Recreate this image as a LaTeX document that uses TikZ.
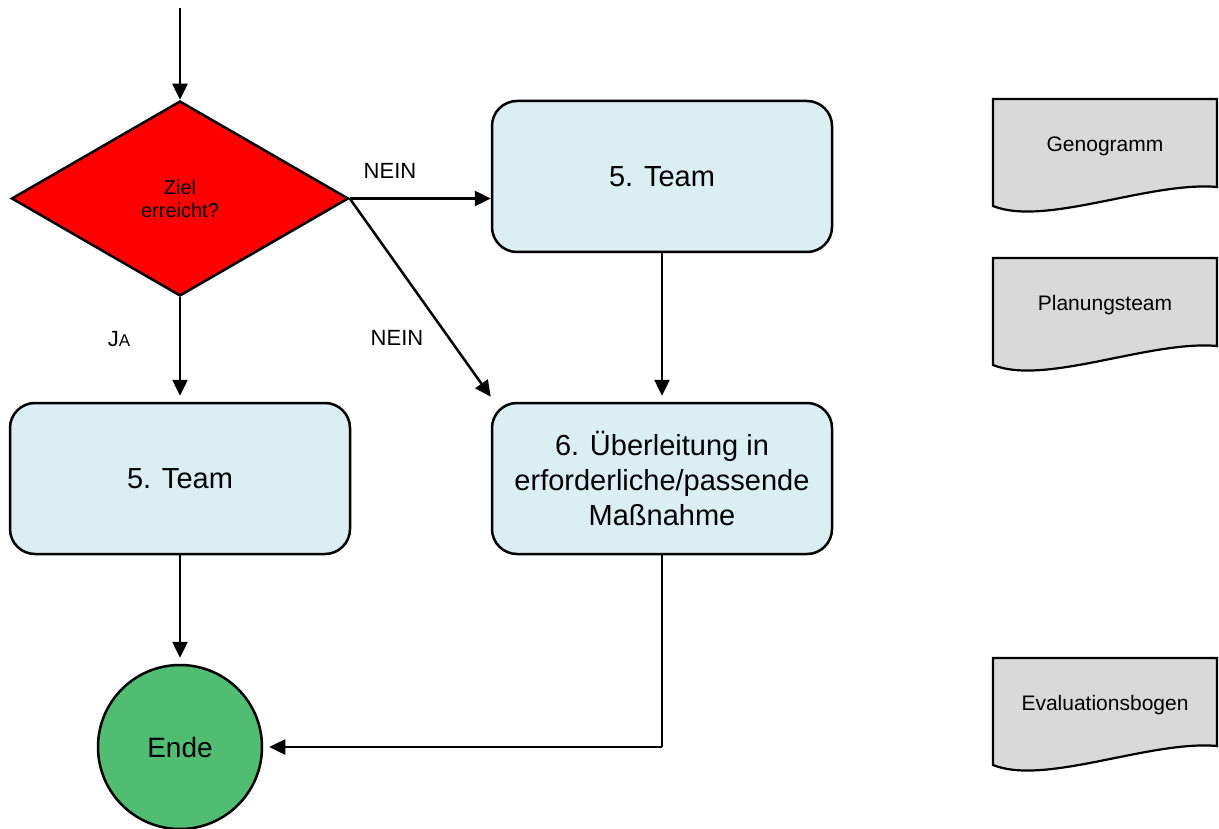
\documentclass[tikz,border=0pt]{standalone}
\usepackage{fontspec}
\setmainfont{Liberation Sans}
\usetikzlibrary{shapes.geometric,arrows.meta}
\definecolor{boxblue}{HTML}{DAEEF3}
\definecolor{decred}{HTML}{FF0000}
\definecolor{endgreen}{HTML}{50BD73}
\definecolor{docgray}{HTML}{D9D9D9}
\tikzset{
  flow/.style={line width=2.5pt, -{Triangle[length=16pt,width=15pt]}},
  gap/.style={shorten >=6pt},
  plain/.style={line width=2.5pt},
  stepbox/.style={draw, line width=2.5pt, fill=boxblue, rounded corners=25pt,
    minimum width=340pt, minimum height=151pt, inner sep=0pt, align=center,
    font=\fontsize{29}{35}\selectfont},
  decision/.style={draw, diamond, line width=2.5pt, fill=decred, inner sep=0pt,
    minimum width=337pt, minimum height=195pt, align=center,
    font=\fontsize{20}{23}\selectfont},
  endnode/.style={draw, circle, line width=2.5pt, fill=endgreen, minimum size=164pt,
    inner sep=0pt, font=\fontsize{28}{32}\selectfont},
  lbl/.style={font=\fontsize{22}{26}\selectfont, inner sep=0pt},
  docshape/.style={draw, line width=2.2pt, fill=docgray},
  doctext/.style={font=\fontsize{21}{25}\selectfont, inner sep=0pt}
}
\begin{document}
\begin{tikzpicture}[x=1pt,y=-1pt]
\useasboundingbox (0,0) rectangle (1219,829);

% decision and steps
\node[decision] (dia) at (180,198.5) {Ziel\\erreicht?};
\node[stepbox] (teamA) at (662,176.5) {5. Team};
\node[stepbox] (teamB) at (180,478.5) {5. Team};
\node[stepbox] (trans) at (662,478.5) {6. Überleitung in\\erforderliche/passende\\Maßnahme};
\node[endnode] (ende) at (180,747) {Ende};

% entry
\coordinate (start) at (180,8);
\draw[flow] (start) -- (dia.north);

% branches
\draw[flow] (dia.east) -- (dia.east -| teamA.west);
\draw[flow] (dia.east) -- ([yshift=5pt]trans.north west);
\draw[flow,gap] (dia.south) -- (dia.south |- teamB.north);
\draw[flow,gap] (teamA.south) -- (trans.north);
\draw[flow,gap] (teamB.south) -- (ende.north);
\coordinate (bend) at (trans.south |- ende.east);
\draw[plain] (trans.south) -- (bend);
\draw[flow,gap] (bend) -- (ende.east);

% branch labels
\node[lbl] (n1) at (390,171) {NEIN};
\node[lbl] (n2) at (397,338) {NEIN};
\node[inner sep=0pt] (ja) at (119,339) {{\fontsize{22}{26}\selectfont J}{\fontsize{17}{20}\selectfont A}};

% documents
\foreach \nm/\yy/\txt in {geno/99/Genogramm, plan/258/Planungsteam, eval/658/Evaluationsbogen}{
  \begin{scope}[shift={(0,\yy)}]
    \draw[docshape] (993,0) -- (1217,0) -- (1217,88)
      .. controls (1150,82) and (1045,128) .. (993,107) -- cycle;
    \node[doctext] (\nm) at (1105,47) {\txt};
  \end{scope}
}
\end{tikzpicture}
\end{document}
